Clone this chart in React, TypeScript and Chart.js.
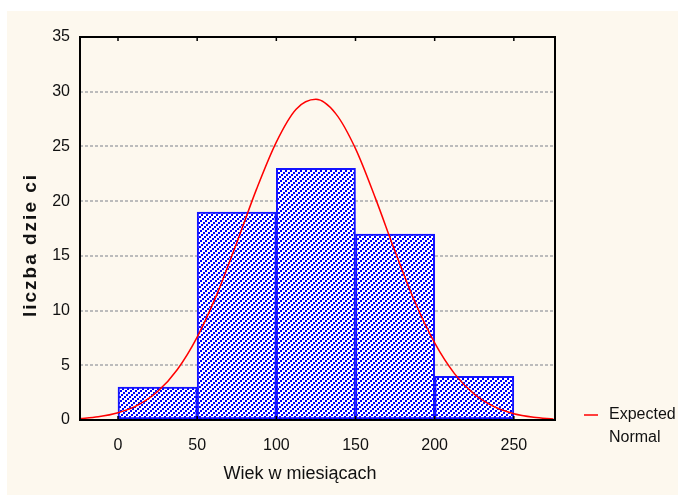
import React, { useEffect, useRef } from "react";
import { Chart, registerables } from "chart.js";

Chart.register(...registerables);

// Histogram bins (centres, months) and counts
const binCenters = [25, 75, 125, 175, 225];
const counts = [3, 19, 23, 17, 4];

// Expected normal curve
const curveX = [-25, -12.5, 0, 12.5, 25, 37.5, 50, 62.5, 75, 87.5, 100, 112.5, 125, 137.5, 150, 162.5, 175, 187.5, 200, 212.5, 225, 237.5, 250, 262.5, 275];
const curveY = [0.12, 0.29, 0.66, 1.36, 2.6, 4.62, 7.58, 11.5, 16.2, 21.1, 25.4, 28.4, 29.3, 28.0, 24.8, 20.3, 15.4, 10.8, 7.04, 4.24, 2.36, 1.22, 0.58, 0.26, 0.1];

const xTicks = [0, 50, 100, 150, 200, 250];
const yTicks = [0, 5, 10, 15, 20, 25, 30, 35];

const xTitle = "Wiek w miesiącach";
const yTitle = "liczba dzie ci";
const legendLines = ["Expected", "Normal"];

const FONT = "'Liberation Sans', Arial, sans-serif";

function makePattern(ctx: CanvasRenderingContext2D) {
  // "/" hatch of 2x2 squares: step (2,-2) along a line, lines 5px apart
  const W = 5;
  const H = 10;
  const c = document.createElement("canvas");
  c.width = W;
  c.height = H;
  const p = c.getContext("2d")!;
  p.fillStyle = "#ffffff";
  p.fillRect(0, 0, W, H);
  p.fillStyle = "#0000ff";
  for (let a = 0; a < 5; a++) {
    const x = (2 * a) % W;
    const y = (((-2 * a) % H) + H) % H;
    for (const dx of [0, -W]) {
      for (const dy of [0, -H]) {
        p.fillRect(x + dx, y + dy, 2, 2);
      }
    }
  }
  return ctx.createPattern(c, "repeat")!;
}

export default function App() {
  const ref = useRef<HTMLCanvasElement>(null);

  useEffect(() => {
    const canvas = ref.current!;
    const ctx = canvas.getContext("2d")!;
    const pattern = makePattern(ctx);

    const decor = {
      id: "decor",
      afterDatasetsDraw(chart: any) {
        const { ctx, chartArea: a, scales } = chart;
        ctx.save();
        // frame
        ctx.strokeStyle = "#000";
        ctx.lineWidth = 2;
        ctx.strokeRect(a.left, a.top, a.right - a.left, a.bottom - a.top);
        // small inner tick marks on top and bottom
        ctx.lineWidth = 1.5;
        for (const t of xTicks) {
          const x = scales.x.getPixelForValue(t);
          ctx.beginPath();
          ctx.moveTo(x, a.top);
          ctx.lineTo(x, a.top + 4);
          ctx.moveTo(x, a.bottom);
          ctx.lineTo(x, a.bottom - 4);
          ctx.stroke();
        }
        // axis titles
        ctx.fillStyle = "#111";
        ctx.textAlign = "center";
        ctx.textBaseline = "middle";
        ctx.font = `18px ${FONT}`;
        ctx.fillText(xTitle, 300, 474);
        ctx.save();
        ctx.translate(31, 245);
        ctx.rotate(-Math.PI / 2);
        ctx.font = `bold 19px ${FONT}`;
        (ctx as any).letterSpacing = "2px";
        ctx.fillText(yTitle, 0, 0);
        ctx.restore();
        // legend
        ctx.strokeStyle = "#ff0000";
        ctx.lineWidth = 1.5;
        ctx.beginPath();
        ctx.moveTo(584, 415);
        ctx.lineTo(598, 415);
        ctx.stroke();
        ctx.fillStyle = "#111";
        ctx.textAlign = "left";
        ctx.font = `16px ${FONT}`;
        ctx.fillText(legendLines[0], 609, 415);
        ctx.fillText(legendLines[1], 609, 438);
        ctx.restore();
      },
    };

    const chart = new Chart(ctx, {
      type: "bar",
      data: {
        datasets: [
          {
            type: "line",
            label: "Expected Normal",
            data: curveX.map((x, i) => ({ x, y: curveY[i] })),
            borderColor: "#ff0000",
            borderWidth: 1.5,
            pointRadius: 0,
            tension: 0.4,
            cubicInterpolationMode: "monotone",
            order: 0,
          } as any,
          {
            type: "bar",
            label: "counts",
            data: binCenters.map((x, i) => ({ x, y: counts[i] })),
            backgroundColor: pattern,
            borderColor: "#1414ff",
            borderWidth: 2,
            borderSkipped: false,
            barPercentage: 1,
            categoryPercentage: 1,
            order: 1,
          } as any,
        ],
      },
      options: {
        responsive: false,
        animation: false,
        layout: { padding: { top: 37, right: 123, left: 0, bottom: 0 } },
        plugins: { legend: { display: false }, tooltip: { enabled: false } },
        scales: {
          x: {
            type: "linear",
            min: -24,
            max: 276,
            offset: false,
            grid: { display: false, offset: false },
            border: { display: false },
            afterBuildTicks: (s: any) => {
              s.ticks = xTicks.map((v) => ({ value: v }));
            },
            afterFit: (s: any) => {
              s.height = 75;
            },
            ticks: {
              color: "#111",
              font: { family: FONT, size: 16 },
              padding: 8,
              maxRotation: 0,
            },
          },
          y: {
            type: "linear",
            min: 0,
            max: 35,
            afterBuildTicks: (s: any) => {
              s.ticks = yTicks.map((v) => ({ value: v }));
            },
            afterFit: (s: any) => {
              s.width = 80;
            },
            border: { display: false, dash: [3, 2] },
            grid: {
              color: "#bcbcbc",
              lineWidth: 2,
              drawTicks: false,
            },
            ticks: {
              color: "#111",
              font: { family: FONT, size: 16 },
              padding: 10,
            },
          },
        },
      } as any,
      plugins: [decor],
    });
    return () => chart.destroy();
  }, []);

  return (
    <div style={{ position: "fixed", left: 0, top: 0, width: 678, height: 495, background: "#ffffff" }}>
      <div style={{ position: "absolute", left: 7, top: 11, width: 671, height: 484, background: "#fdf8ee" }} />
      <canvas ref={ref} width={678} height={495} style={{ position: "absolute", left: 0, top: 0 }} />
    </div>
  );
}
